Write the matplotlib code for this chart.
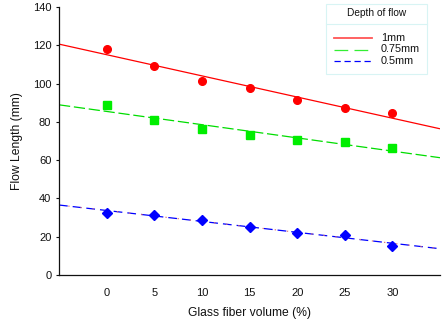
import numpy as np
import matplotlib
matplotlib.use("Agg")
import matplotlib.pyplot as plt
from matplotlib.lines import Line2D
from matplotlib.patches import Rectangle

plt.rcParams['font.family'] = ['Liberation Sans', 'DejaVu Sans']

glass_fiber = [0, 5, 10, 15, 20, 25, 30]
flow_1mm = [118.1, 109.2, 101.5, 97.7, 91.2, 87.2, 84.6]
flow_075mm = [88.8, 81.1, 76.4, 73.0, 70.5, 69.6, 66.2]
flow_05mm = [32.6, 31.5, 28.7, 24.9, 22.1, 21.1, 15.1]
series_labels = ["1mm", "0.75mm", "0.5mm"]
legend_title = "Depth of flow"

W, H = 443, 324
fig = plt.figure(figsize=(W / 100, H / 100), dpi=100)
ax = fig.add_axes([59 / W, 1 - 275 / H, (440 - 59) / W, (275 - 7) / H])

xfit = np.array([-5, 35])

def fit(y):
    p = np.polyfit(glass_fiber, y, 1)
    return np.polyval(p, xfit)

# fit lines
ax.plot(xfit, fit(flow_1mm), color='#ff0000', lw=0.9, solid_capstyle='butt', zorder=2)
ax.plot(xfit, fit(flow_075mm), color='#00dd00', lw=0.9, linestyle=(0, (9, 3)), zorder=2)
ax.plot(xfit, fit(flow_05mm), color='#0000ff', lw=0.9, linestyle=(0, (7, 4)), zorder=2)
ax.plot(xfit, fit(flow_05mm), color='#e07070', lw=0.8, linestyle=(-8.4, (1.2, 9.8)), zorder=2)

# markers
ax.plot(glass_fiber, flow_1mm, 'o', color='#ff0000', ms=5.5, mec='#ff0000', zorder=3)
ax.plot(glass_fiber, flow_075mm, 's', color='#00ee00', ms=5.5, mec='#00ee00', zorder=3)
ax.plot(glass_fiber, flow_05mm, 'D', color='#0000ff', ms=5, mec='#0000ff', zorder=3)

ax.set_xlim(-5, 35)
ax.set_ylim(0, 140)
ax.set_xticks(glass_fiber)
ax.set_yticks(np.arange(0, 141, 20))
ax.spines['top'].set_visible(False)
ax.spines['right'].set_visible(False)
for s in ['left', 'bottom']:
    ax.spines[s].set_linewidth(0.9)
    ax.spines[s].set_color('#111111')
ax.tick_params(axis='x', length=0, pad=9, labelsize=8, colors='#111111')
ax.tick_params(axis='y', length=2.5, width=0.8, pad=3, labelsize=8, colors='#111111')
ax.set_xlabel("Glass fiber volume (%)", fontsize=8.7, labelpad=7, color='#111111')
ax.set_ylabel("Flow Length (mm)", fontsize=8.7, labelpad=7, color='#111111')

# legend (manual box with title)
def fx(x):
    return x / W
def fy(y):
    return 1 - y / H

fig.patches.append(Rectangle((fx(326), fy(74)), fx(427) - fx(326), fy(4) - fy(74),
                             transform=fig.transFigure, fill=False, ec='#d8f4f4', lw=0.8))
fig.lines.append(Line2D([fx(326), fx(427)], [fy(24), fy(24)], transform=fig.transFigure,
                        color='#d8f4f4', lw=0.8))
fig.text(fx(377), fy(13.5), legend_title, fontsize=7.3, ha='center', va='center', color='#111111')
rows = [38, 49.5, 61]
fig.lines.append(Line2D([fx(334), fx(372)], [fy(rows[0])] * 2, transform=fig.transFigure,
                        color='#ff5555', lw=1.3))
fig.lines.append(Line2D([fx(334), fx(372)], [fy(rows[1])] * 2, transform=fig.transFigure,
                        color='#33ee33', lw=0.9, linestyle=(0, (11, 5))))
fig.lines.append(Line2D([fx(334), fx(372)], [fy(rows[2])] * 2, transform=fig.transFigure,
                        color='#0000ff', lw=0.9, linestyle=(0, (5, 3))))
for r, lab in zip(rows, series_labels):
    fig.text(fx(381), fy(r), lab, fontsize=7.8, ha='left', va='center', color='#111111')

fig.savefig("out.png", dpi=100)
